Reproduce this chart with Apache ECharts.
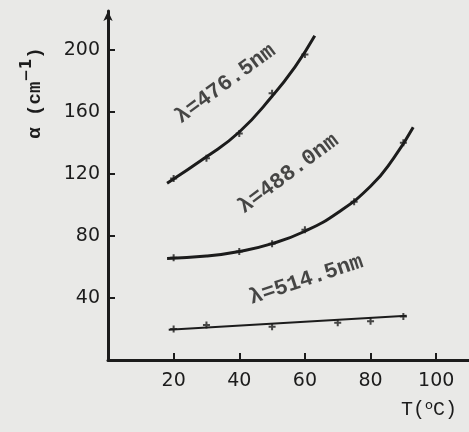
<!DOCTYPE html>
<html><head><meta charset="utf-8">
<script src="https://cdn.jsdelivr.net/npm/echarts@6/dist/echarts.min.js"></script>
<style>html,body{margin:0;padding:0;background:#e9e9e7}#c{width:469px;height:432px}</style>
</head><body><div id="c"></div>
<script>
const xTicks = [20, 40, 60, 80, 100];
const yTicks = [40, 80, 120, 160, 200];
const names = ['λ=476.5nm', 'λ=488.0nm', 'λ=514.5nm'];
const curve4765 = [[18,114],[30,131],[40,147],[50,170],[57,189],[63,209]];
const pts4765 = [[20,117],[30,130],[40,146],[50,172],[60,197]];
const curve4880 = [[18,65.5],[30,67],[40,70],[50,75],[60,83],[70,95],[80,112],[87,130],[93,150]];
const pts4880 = [[20,66],[40,70],[50,75],[60,84],[75,102],[90,140]];
const curve5145 = [[18.5,19.5],[91,28.5]];
const pts5145 = [[20,20],[30,22.5],[50,21.5],[70,24],[80,25],[90,28]];
const labelPos = [[35.8,178],[55,120],[60.4,51.6]];
const labelRot = [36.5, 36.6, 18.4];

const ink = '#1c1c1c';
const chart = echarts.init(document.getElementById('c'));
const cross = 'path://M0,5L10,5M5,0L5,10';
function curve(d, w){ return {type:'line', data:d, smooth:0.5, showSymbol:false, lineStyle:{color:ink, width:w}, silent:true, z:3}; }
function marks(d){ return {type:'scatter', data:d, symbol:cross, symbolSize:7, itemStyle:{color:'none', borderColor:ink, borderWidth:2}, z:4}; }
const series = [
  curve(curve4765, 3), marks(pts4765),
  curve(curve4880, 3), marks(pts4880),
  curve(curve5145, 2), marks(pts5145),
  {type:'scatter', symbolSize:0, z:5,
   data: names.map((n,i)=>({value:labelPos[i], name:n, label:{rotate:labelRot[i]}})),
   label:{show:true, position:'inside', formatter:'{b}', color:ink, fontFamily:'Liberation Mono', fontSize:22, fontWeight:'bold'}}
];
chart.setOption({
  backgroundColor:'#e9e9e7',
  animation:false,
  grid:{left:108, right:0, top:11, bottom:72},
  xAxis:{type:'value', min:0, max:110, interval:20,
    axisLine:{show:true, lineStyle:{color:ink, width:3}},
    axisTick:{show:true, inside:true, length:7, lineStyle:{color:ink, width:2}},
    axisLabel:{margin:12, color:ink, fontFamily:'DejaVu Sans', fontSize:19, showMaxLabel:false,
      formatter:v=> xTicks.includes(v) ? String(v) : ''},
    splitLine:{show:false}},
  yAxis:{type:'value', min:0, max:225, interval:40,
    axisLine:{show:true, lineStyle:{color:ink, width:3}, symbol:['none','arrow'], symbolSize:[7,10]},
    axisTick:{show:true, inside:true, length:7, lineStyle:{color:ink, width:2}},
    axisLabel:{margin:8, color:ink, fontFamily:'DejaVu Sans', fontSize:19, showMaxLabel:false,
      formatter:v=> yTicks.includes(v) ? String(v) : ''},
    splitLine:{show:false}},
  graphic:[
    {type:'text', x:429, y:410, style:{text:'T({s|o}C)', font:'20px "Liberation Mono"', fill:ink, align:'center', verticalAlign:'middle',
      rich:{s:{font:'13px "DejaVu Sans"', fill:ink, verticalAlign:'top', padding:[0,0,8,0]}}}},
    {type:'text', x:32, y:93, rotation:Math.PI/2, style:{
      text:'{a|α (cm}{s|−1}{a|)}', align:'center', verticalAlign:'middle', fill:ink,
      rich:{a:{font:'bold 19px "Liberation Mono"', fill:ink, verticalAlign:'bottom'}, s:{font:'bold 15px "DejaVu Sans"', fill:ink, verticalAlign:'top', padding:[0,0,10,0]}}}}
  ],
  series: series
});
</script></body></html>
